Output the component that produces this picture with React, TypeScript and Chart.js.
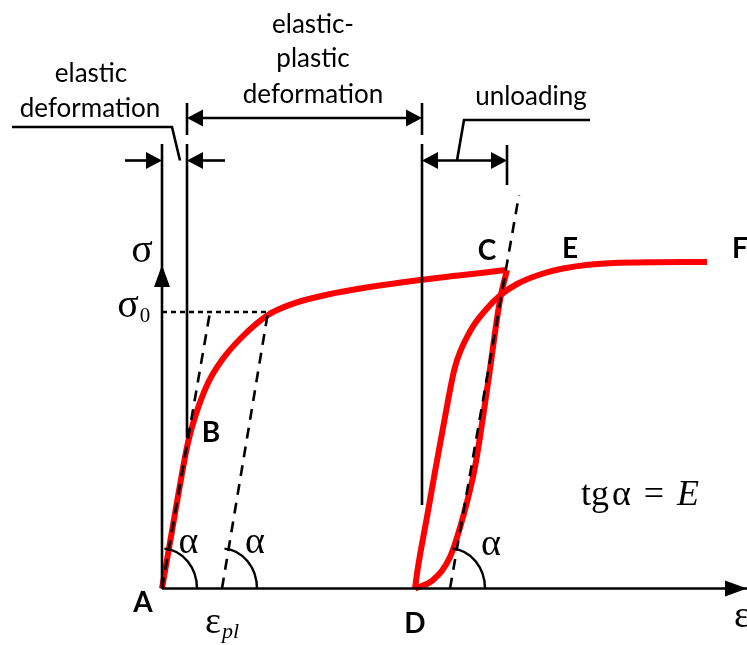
import { useEffect, useRef } from "react";
import { Chart, registerables } from "chart.js";

Chart.register(...registerables);

const W = 747;
const H = 645;
const RED = "#ff0000";
const INK = "#000000";

// Diagram units: strain ε along x, stress σ along y, origin at point A
const EPS_MIN = -16.2;
const EPS_MAX = 58.5;
const SIG_MIN = -5.65;
const SIG_MAX = 58.85;

// Loading branch A → B → C
const loadEps = [0, 1.0, 2.0, 2.6, 3.3, 4.6, 6.0, 8.0, 10.6, 13.3, 16.6, 20.6, 26.0, 34.5];
const loadSig = [0, 5.76, 11.5, 14.6, 17.15, 20.55, 22.85, 25.15, 27.35, 28.55, 29.4, 30.12, 30.88, 31.85];

// Unloading branch C → D
const unloadEps = [34.5, 33.8, 32.6, 31.3, 30.1, 28.8, 27.1, 25.3];
const unloadSig = [31.85, 28.85, 20.55, 12.15, 7.15, 3.15, 0.85, 0];

// Reloading branch D → E → F
const reloadEps = [25.3, 25.6, 26.5, 27.1, 28.3, 29.3, 30.8, 32.5, 33.8, 35.5, 37.8, 40.1, 45.1, 54.5];
const reloadSig = [0, 2.15, 7.15, 10.55, 17.15, 22.15, 25.7, 28.0, 29.3, 30.45, 31.4, 32.0, 32.55, 32.65];

// Dashed lines with the elastic slope tg α = E
const elasticEps = [0, 4.8];
const elasticSig = [0, 27.65];
const offsetEps = [6.0, 10.6];
const offsetSig = [0, 27.65];
const unloadSlopeEps = [28.8, 35.7];
const unloadSlopeSig = [0, 39.35];

// Yield stress level σ0
const sigma0Eps = [0, 10.6];
const sigma0Sig = [27.65, 27.65];

// Solid guide lines: [ε1, σ1, ε2, σ2]
const guideLines = [
  [0, 0, 0, 44.45],
  [0, 0, 58.5, 0],
  [2.5, 48.55, 2.5, 45.35],
  [2.5, 44.45, 2.5, 15.05],
  [26.0, 48.55, 26.0, 45.35],
  [26.0, 44.45, 26.0, 8.35],
  [34.5, 44.35, 34.5, 40.35],
];

// Dimension lines: [ε1, σ1, ε2, σ2, head at start, head at end]
const dimensionLines = [
  [-3.7, 42.8, 0, 42.8, 0, 1],
  [6.3, 42.8, 2.5, 42.8, 0, 1],
  [2.5, 47.05, 26.0, 47.05, 1, 1],
  [26.0, 42.8, 34.5, 42.8, 1, 1],
];

// Axis arrow tips: [ε, σ, direction ε, direction σ]
const axisArrows = [
  [0, 32.35, 0, 1],
  [58.5, 0, 1, 0],
];

// Leader lines from the dimension arrows to their captions
const leaderEps = [
  [1.8, 1.0, -15.0],
  [29.5, 30.2, 42.8],
];
const leaderSig = [
  [42.8, 46.15, 46.15],
  [42.8, 46.85, 46.85],
];

// Captions (baseline positions)
const captionText = ["elastic", "deformation", "elastic-", "plastic", "deformation", "unloading"];
const captionEps = [-7.1, -7.2, 15.1, 15.1, 15.1, 36.9];
const captionSig = [50.65, 47.15, 55.55, 52.15, 48.55, 48.35];

// Point names
const pointNames = ["A", "B", "C", "D", "E", "F"];
const pointEps = [-1.9, 4.9, 32.5, 25.3, 40.8, 57.8];
const pointSig = [-2.35, 14.65, 32.85, -4.45, 33.05, 33.05];

// Angle marks at the foot of each elastic-slope line
const angleEps = [0, 6.0, 28.8];

// Greek symbols with optional subscripts
const symbolText = ["σ", "σ", "α", "α", "α", "ε", "ε"];
const symbolSub = ["", "0", "", "", "", "pl", ""];
const symbolEps = [-2.0, -3.4, 2.65, 9.3, 32.9, 5.1, 58.0];
const symbolSig = [32.65, 27.15, 3.55, 3.55, 3.35, -4.45, -3.85];

// Formula placement
const formulaEps = 47.8;
const formulaSig = 8.35;

function points(xs: number[], ys: number[]) {
  return xs.map((x, i) => ({ x, y: ys[i] }));
}

export default function App() {
  const ref = useRef<HTMLCanvasElement>(null);

  useEffect(() => {
    const canvas = ref.current;
    if (!canvas) return;

    const diagram = {
      id: "diagram",
      afterDatasetsDraw(chart: any) {
        const ctx: CanvasRenderingContext2D = chart.ctx;
        const X = (v: number) => chart.scales.x.getPixelForValue(v);
        const Y = (v: number) => chart.scales.y.getPixelForValue(v);

        ctx.save();
        ctx.lineWidth = 2.6;
        ctx.strokeStyle = INK;
        ctx.fillStyle = INK;
        ctx.lineCap = "butt";
        ctx.setLineDash([]);

        const head = (tx: number, ty: number, ux: number, uy: number, len: number, half: number) => {
          ctx.beginPath();
          ctx.moveTo(tx, ty);
          ctx.lineTo(tx - ux * len - uy * half, ty - uy * len + ux * half);
          ctx.lineTo(tx - ux * len + uy * half, ty - uy * len - ux * half);
          ctx.closePath();
          ctx.fill();
        };

        const seg = (x1: number, y1: number, x2: number, y2: number) => {
          ctx.beginPath();
          ctx.moveTo(x1, y1);
          ctx.lineTo(x2, y2);
          ctx.stroke();
        };

        // guide lines and axes
        for (const [a, b, c, d] of guideLines) seg(X(a), Y(b), X(c), Y(d));

        // axis arrowheads
        for (const [e, s, de, ds] of axisArrows) {
          const l = Math.hypot(de, ds);
          head(X(e), Y(s), de / l, -ds / l, 22, 8);
        }

        // dimension lines
        const HL = 16;
        for (const [a, b, c, d, hs, he] of dimensionLines) {
          const x1 = X(a), y1 = Y(b), x2 = X(c), y2 = Y(d);
          const l = Math.hypot(x2 - x1, y2 - y1);
          const ux = (x2 - x1) / l, uy = (y2 - y1) / l;
          const sx = hs ? x1 + ux * HL * 0.6 : x1;
          const sy = hs ? y1 + uy * HL * 0.6 : y1;
          const ex = he ? x2 - ux * HL * 0.6 : x2;
          const ey = he ? y2 - uy * HL * 0.6 : y2;
          seg(sx, sy, ex, ey);
          if (hs) head(x1, y1, -ux, -uy, HL, 8.5);
          if (he) head(x2, y2, ux, uy, HL, 8.5);
        }

        // leaders
        ctx.lineJoin = "miter";
        leaderEps.forEach((xs, i) => {
          ctx.beginPath();
          xs.forEach((e, j) => {
            const px = X(e), py = Y(leaderSig[i][j]);
            if (j === 0) ctx.moveTo(px, py);
            else ctx.lineTo(px, py);
          });
          ctx.stroke();
        });

        // angle arcs
        ctx.lineWidth = 2.4;
        for (const e of angleEps) {
          ctx.beginPath();
          ctx.ellipse(X(e), Y(0), 35, 40, 0, (-86 * Math.PI) / 180, 0);
          ctx.stroke();
        }

        // captions
        ctx.textAlign = "center";
        ctx.textBaseline = "alphabetic";
        ctx.font = "26px Lato";
        captionText.forEach((t, i) => ctx.fillText(t, X(captionEps[i]), Y(captionSig[i])));

        // point names
        ctx.font = "bold 28px Lato";
        pointNames.forEach((t, i) => ctx.fillText(t, X(pointEps[i]), Y(pointSig[i])));

        // Greek symbols
        symbolText.forEach((t, i) => {
          const big = t === "σ" ? 40 : 38;
          ctx.font = `${big}px 'Liberation Serif'`;
          ctx.textAlign = "center";
          const cx = X(symbolEps[i]);
          const by = Y(symbolSig[i]);
          ctx.fillText(t, cx, by);
          const sub = symbolSub[i];
          if (sub) {
            const w = ctx.measureText(t).width;
            ctx.textAlign = "left";
            ctx.font = sub === "0" ? "21px 'Liberation Serif'" : "italic 22px 'Liberation Serif'";
            ctx.fillText(sub, cx + w / 2 + 1, by + 5);
          }
        });

        // tg α = E
        {
          const size = 36;
          const parts: [string, string, number][] = [
            ["tg", `${size}px 'Liberation Serif'`, 3],
            ["α", `${size}px 'Liberation Serif'`, 13],
            ["=", `${size}px 'Liberation Serif'`, 13],
            ["E", `italic ${size}px 'Liberation Serif'`, 0],
          ];
          let total = 0;
          const widths = parts.map(([t, f, g]) => {
            ctx.font = f;
            const w = ctx.measureText(t).width;
            total += w + g;
            return w;
          });
          let x = X(formulaEps) - total / 2;
          const by = Y(formulaSig);
          ctx.textAlign = "left";
          parts.forEach(([t, f, g], i) => {
            ctx.font = f;
            ctx.fillText(t, x, by);
            x += widths[i] + g;
          });
        }

        ctx.restore();
      },
    };

    const dashed = (xs: number[], ys: number[], dash: number[]) => ({
      data: points(xs, ys),
      showLine: true,
      borderColor: INK,
      borderWidth: 2.6,
      borderDash: dash,
      pointRadius: 0,
      tension: 0,
      order: 0,
    });

    const red = (xs: number[], ys: number[]) => ({
      data: points(xs, ys),
      showLine: true,
      borderColor: RED,
      borderWidth: 6,
      borderJoinStyle: "miter" as const,
      pointRadius: 0,
      tension: 0.4,
      cubicInterpolationMode: "monotone" as const,
      order: 1,
    });

    const chart = new Chart(canvas, {
      type: "scatter",
      data: {
        datasets: [
          dashed(elasticEps, elasticSig, [11, 8]),
          dashed(offsetEps, offsetSig, [11, 8]),
          dashed(unloadSlopeEps, unloadSlopeSig, [11, 8]),
          dashed(sigma0Eps, sigma0Sig, [5, 4]),
          red(loadEps, loadSig),
          red(unloadEps, unloadSig),
          red(reloadEps, reloadSig),
        ] as any,
      },
      options: {
        responsive: false,
        animation: false,
        devicePixelRatio: 1,
        events: [],
        layout: { padding: 0 },
        scales: {
          x: { type: "linear", min: EPS_MIN, max: EPS_MAX, display: false },
          y: { type: "linear", min: SIG_MIN, max: SIG_MAX, display: false },
        },
        plugins: {
          legend: { display: false },
          tooltip: { enabled: false },
        },
      },
      plugins: [diagram],
    });

    return () => chart.destroy();
  }, []);

  return (
    <div style={{ position: "absolute", left: 0, top: 0, width: W, height: H, background: "#fff" }}>
      <canvas ref={ref} width={W} height={H} style={{ display: "block" }} />
    </div>
  );
}
